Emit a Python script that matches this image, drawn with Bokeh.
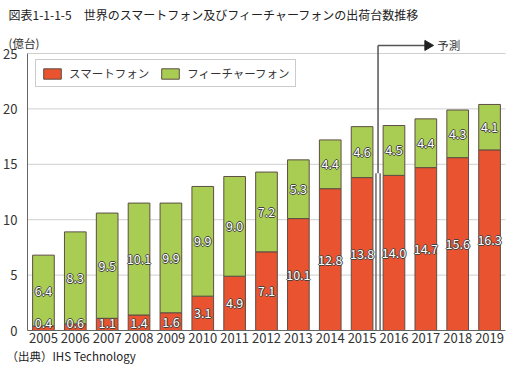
import math
from bokeh.plotting import figure
from bokeh.models import (ColumnDataSource, Legend, LegendItem, Label,
                          FixedTicker, Range1d)
from bokeh.core.properties import value
from bokeh.embed import file_html
from bokeh.resources import INLINE

years = ["2005", "2006", "2007", "2008", "2009", "2010", "2011", "2012",
         "2013", "2014", "2015", "2016", "2017", "2018", "2019"]
smartphone = [0.4, 0.6, 1.1, 1.4, 1.6, 3.1, 4.9, 7.1, 10.1, 12.8, 13.8, 14.0, 14.7, 15.6, 16.3]
feature = [6.4, 8.3, 9.5, 10.1, 9.9, 9.9, 9.0, 7.2, 5.3, 4.4, 4.6, 4.5, 4.4, 4.3, 4.1]
y_ticks = [0, 5, 10, 15, 20, 25]
forecast_start = "2016"

FONT = "Noto Sans CJK JP"
RED = "#E9532F"
GREEN = "#A8CD52"
EDGE = "#5E4E44"

W, H = 516, 364
# plot area (axes box) in canvas pixels
AX_L, AX_R, AX_T, AX_B = 27, 505, 53, 330
n = len(years)
ymax = y_ticks[-1]
upx = (AX_R - AX_L) / n          # pixels per category
vpx = (AX_B - AX_T) / ymax       # pixels per unit
x_start = -0.5 - AX_L / upx
x_end = n - 0.5 + (W - AX_R) / upx
y_start = -(H - AX_B) / vpx
y_end = AX_B / vpx

idx = list(range(n))
total = [s + f for s, f in zip(smartphone, feature)]
src = ColumnDataSource(dict(
    x=idx, s=smartphone, f=feature, total=total,
    s_lab=[f"{v:.1f}" for v in smartphone],
    f_lab=[f"{v:.1f}" for v in feature],
    s_y=[max(v / 2, 0.7) for v in smartphone],
    f_y=[s + f / 2 for s, f in zip(smartphone, feature)],
))

p = figure(width=W, height=H, output_backend="svg", toolbar_location=None,
           x_range=Range1d(x_start, x_end), y_range=Range1d(y_start, y_end),
           min_border=0)
p.outline_line_color = None
p.background_fill_color = "white"
p.xgrid.visible = False
p.ygrid.visible = False

# horizontal grid lines at the tick values
gl = y_ticks[1:]
p.segment(x0=[-0.5] * len(gl), x1=[n - 0.5] * len(gl), y0=gl, y1=gl,
          line_color="#CFCFCF", line_width=1)

r1 = p.vbar(x="x", bottom=0, top="s", width=0.68, source=src,
            fill_color=RED, line_color=EDGE, line_width=1)
r2 = p.vbar(x="x", bottom="s", top="total", width=0.68, source=src,
            fill_color=GREEN, line_color=EDGE, line_width=1)

# value labels: dark outline imitation then white text
for dx, dy in [(-1, 0), (1, 0), (0, -1), (0, 1)]:
    for col_y, col_t in [("s_y", "s_lab"), ("f_y", "f_lab")]:
        p.text(x="x", y=col_y, text=col_t, source=src, x_offset=dx, y_offset=dy,
               text_align="center", text_baseline="middle",
               text_font=value(FONT), text_font_size="12.5px", text_color="#444444")
for col_y, col_t in [("s_y", "s_lab"), ("f_y", "f_lab")]:
    p.text(x="x", y=col_y, text=col_t, source=src,
           text_align="center", text_baseline="middle",
           text_font=value(FONT), text_font_size="12.5px", text_color="white")

# forecast separator and arrow
fx = years.index(forecast_start) - 0.5
ay = 25.73
p.segment(x0=[fx - 0.065, fx + 0.065], y0=[0, 0], x1=[fx - 0.065, fx + 0.065],
          y1=[14.2, 14.2], line_color="#6a6a6a", line_width=1.5)
p.segment(x0=[fx, fx], y0=[14.2, ay], x1=[fx, fx + 1.5], y1=[ay, ay],
          line_color="#555555", line_width=1.5)
p.scatter(x=[fx + 1.56], y=[ay], marker="triangle", size=10, angle=-math.pi / 2,
          fill_color="#222222", line_color="#222222")
p.text(x=[fx + 1.86], y=[ay], text=["予測"], text_baseline="middle",
       text_font=value(FONT), text_font_size="11.5px", text_color="#333333")

# axes (placed inside the full-canvas frame)
p.xaxis.fixed_location = 0
p.xaxis.bounds = (-0.5, n - 0.5)
p.xaxis.ticker = FixedTicker(ticks=idx)
p.xaxis.major_label_overrides = {i: y for i, y in zip(idx, years)}
p.xaxis.major_tick_line_color = None
p.xaxis.minor_tick_line_color = None
p.xaxis.axis_line_color = "#666666"
p.xaxis.major_label_standoff = -4
p.yaxis.fixed_location = -0.5
p.yaxis.bounds = (0, ymax)
p.yaxis.ticker = FixedTicker(ticks=y_ticks)
p.yaxis.major_tick_line_color = None
p.yaxis.minor_tick_line_color = None
p.yaxis.axis_line_color = "#666666"
p.yaxis.major_label_standoff = 4
for ax in (p.xaxis, p.yaxis):
    ax.major_label_text_font = FONT
    ax.major_label_text_font_size = "13px"
    ax.major_label_text_color = "#333333"

legend = Legend(items=[LegendItem(label="スマートフォン", renderers=[r1]),
                       LegendItem(label="フィーチャーフォン", renderers=[r2])],
                orientation="horizontal", location=(35, H - 87), margin=0,
                border_line_color="#999999", border_line_width=1,
                label_text_font=FONT, label_text_font_size="11.5px",
                label_text_color="#333333", glyph_width=22, glyph_height=13,
                spacing=10, padding=5, label_standoff=6)
p.add_layout(legend)

# texts around the chart (screen units, from the bottom-left corner)
p.add_layout(Label(x=8, y=H - 14, x_units="screen", y_units="screen",
                   text="図表1-1-1-5　世界のスマートフォン及びフィーチャーフォンの出荷台数推移",
                   text_baseline="middle", text_font=FONT, text_font_size="12px",
                   text_color="#222222"))
p.add_layout(Label(x=8, y=H - 42, x_units="screen", y_units="screen", text="(億台)",
                   text_baseline="middle", text_font=FONT, text_font_size="11.5px",
                   text_color="#333333"))
p.add_layout(Label(x=6, y=H - 355, x_units="screen", y_units="screen",
                   text="（出典）IHS Technology",
                   text_baseline="middle", text_font=FONT, text_font_size="11.5px",
                   text_color="#222222"))

open("out.html", "w").write(file_html(p, INLINE))
